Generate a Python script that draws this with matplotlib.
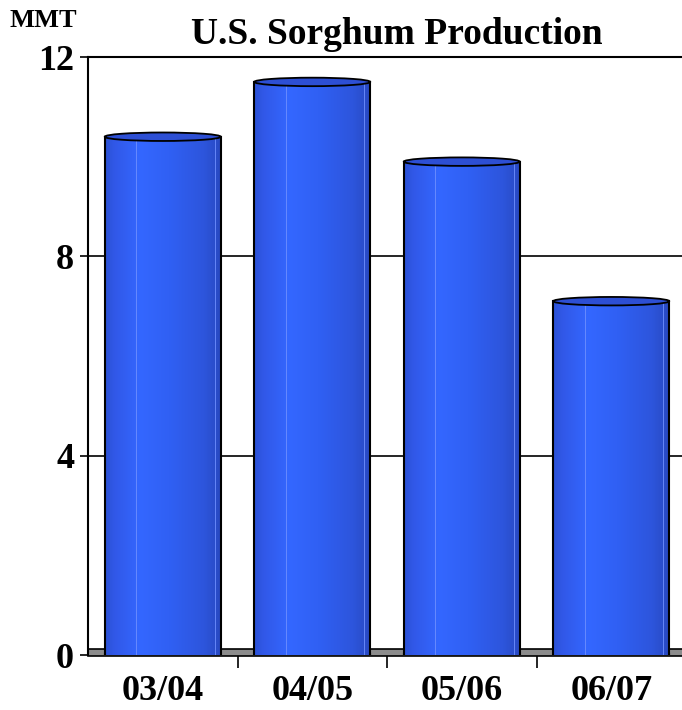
import numpy as np
import matplotlib
matplotlib.use('Agg')
import matplotlib.pyplot as plt
from matplotlib.colors import LinearSegmentedColormap
from matplotlib.patches import Ellipse, Rectangle

# Datos del gráfico
years = ['03/04', '04/05', '05/06', '06/07']
production = [10.4, 11.5, 9.9, 7.1]
yticks = [0, 4, 8, 12]

plt.rcParams['font.family'] = ['Liberation Serif', 'DejaVu Serif']
plt.rcParams['font.weight'] = 'bold'

fig = plt.figure(figsize=(6.82, 7.10), dpi=100)
ax = fig.add_axes([88 / 682, 1 - 655 / 710, 598 / 682, 598 / 710])

cyl = LinearSegmentedColormap.from_list(
    'cyl', [(0, '#2b52d6'), (0.08, '#3158e8'), (0.3, '#3467ff'),
            (0.55, '#3060f4'), (0.85, '#2d55dc'), (1, '#2848c0')])
grad = np.linspace(0, 1, 200).reshape(1, -1)
w = 0.776
cap = 0.17

for i, v in enumerate(production):
    x0, x1 = i - w / 2, i + w / 2
    ax.imshow(grad, cmap=cyl, extent=[x0, x1, 0, v], aspect='auto',
              interpolation='bilinear', zorder=3)
    # brillos finos
    ax.plot([x0 + 0.27 * w] * 2, [0, v], color='#6f90ff', lw=0.6, zorder=3.5)
    ax.plot([x0 + 0.95 * w] * 2, [0, v], color='#6f90ff', lw=0.6, zorder=3.5)
    ax.plot([x0, x0], [0, v], color='black', lw=1.5, zorder=4)
    ax.plot([x1, x1], [0, v], color='black', lw=1.5, zorder=4)
    ax.add_patch(Ellipse((i, v), w, cap, facecolor='#2d4fd4',
                         edgecolor='black', lw=1.3, zorder=5))
    ax.add_patch(Ellipse((i, 0.02), w, cap * 0.6, facecolor='#2d55dc',
                         edgecolor='black', lw=1.2, zorder=2.9))

# piso gris
ax.add_patch(Rectangle((-0.5, -0.03), 5, 0.15, facecolor='#8c8c8c',
                       edgecolor='black', lw=1.2, zorder=2, clip_on=False))

ax.set_xlim(-0.5, 3.5)
ax.set_ylim(0, 12)
ax.set_yticks(yticks)
ax.set_yticklabels([str(t) for t in yticks], fontsize=26, fontweight='bold')
ax.set_xticks([0.5, 1.5, 2.5])
ax.set_xticklabels([])
ax.tick_params(axis='x', length=9, width=1.2, direction='out')
ax.tick_params(axis='y', length=6, width=1.2, direction='out', pad=4)
for i, lab in enumerate(years):
    ax.text(i, -0.9, lab, ha='center', va='baseline', fontsize=26,
            fontweight='bold')

for t in [4, 8]:
    ax.axhline(t, color='black', lw=1.2, zorder=1)

for s in ['left', 'top']:
    ax.spines[s].set_linewidth(1.5)
ax.spines['right'].set_visible(False)
ax.spines['bottom'].set_visible(False)

fig.text(0.582, 1 - 44 / 710, 'U.S. Sorghum Production', ha='center',
         va='baseline', fontsize=27, fontweight='bold')
fig.text(10 / 682, 1 - 27 / 710, 'MMT', ha='left', va='baseline',
         fontsize=19, fontweight='bold')

fig.savefig('out.png', dpi=100)
